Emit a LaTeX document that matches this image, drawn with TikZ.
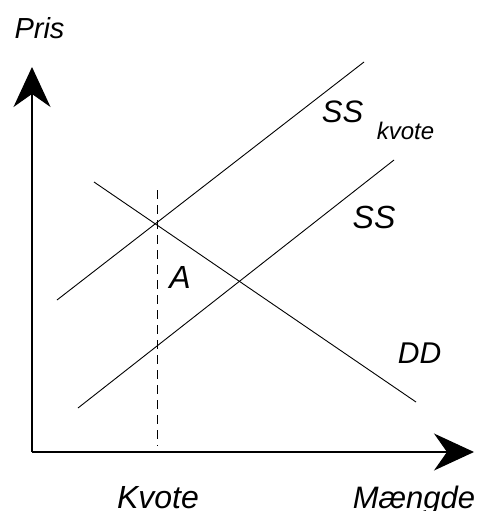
\documentclass[tikz,border=0pt]{standalone}
\usepackage{fontspec}
\setmainfont{Liberation Sans}
\usetikzlibrary{arrows.meta}
\begin{document}
\begin{tikzpicture}[x=1pt,y=-1pt,
  axis/.style={line width=1.2pt,-{Stealth[length=40pt,width=37pt,inset=13pt]}},
  curve/.style={line width=0.9pt},
  lbl/.style={inner sep=0pt,anchor=base},
  fs/.style={font=\itshape\fontsize{#1}{#1}\selectfont}]
\useasboundingbox (0,0) rectangle (481,511);
\coordinate (O) at (32,452);
\coordinate (ytip) at (32,67);
\coordinate (xtip) at (474,452);
\draw[axis] (O) -- (ytip);
\draw[axis] (O) -- (xtip);
\coordinate (k1) at (57,300);
\coordinate (k2) at (364,62);
\coordinate (s1) at (78,408);
\coordinate (s2) at (394,160);
\coordinate (d1) at (94,182);
\coordinate (d2) at (416,402);
\draw[curve] (k1) -- (k2);
\draw[curve] (s1) -- (s2);
\draw[curve] (d1) -- (d2);
\coordinate (q1) at (157,190);
\coordinate (q2) at (157,446);
\draw[line width=0.8pt,dash pattern=on 9pt off 6pt] (q1) -- (q2);
\node[lbl,fs=29] (pris) at (39.5,38) {Pris};
\node[lbl,fs=31] (ssk) at (342.5,122) {SS};
\node[lbl,fs=24] (kv) at (405.5,139) {kvote};
\node[lbl,fs=32] (ss) at (374,228) {SS};
\node[lbl,fs=32] (a) at (180,288) {A};
\node[lbl,fs=30] (dd) at (419.5,363) {DD};
\node[lbl,fs=32] (kvote) at (158,508) {Kvote};
\node[lbl,fs=31] (m) at (414,508) {Mængde};
\end{tikzpicture}
\end{document}
